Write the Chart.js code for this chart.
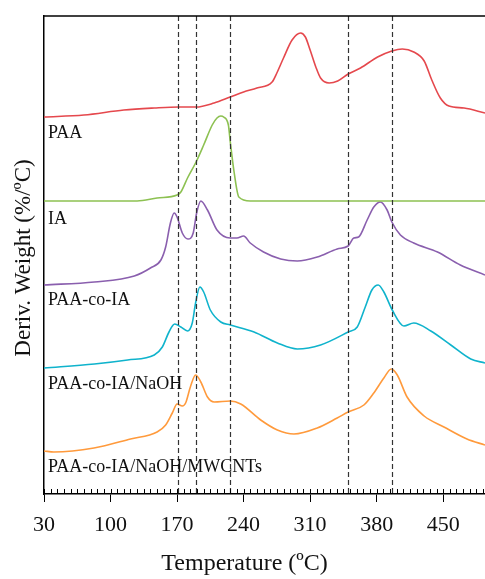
<!DOCTYPE html>
<html>
<head>
<meta charset="utf-8">
<script src="https://cdn.jsdelivr.net/npm/chart.js@4.4.1/dist/chart.umd.min.js"></script>
<style>
  html, body { margin: 0; padding: 0; background: #fff; }
  #wrap { width: 485px; height: 579px; }
</style>
</head>
<body>
<div id="wrap"><canvas id="dtg"></canvas></div>
<script>
'use strict';

// x axis: temperature (ºC), y: arbitrary stacked offset units
const xTicks = [30, 100, 170, 240, 310, 380, 450];
const markers = [171, 190, 226, 350, 396]; // dashed guide lines

const paaT = [30, 72, 114, 146, 172, 190, 209, 226, 240, 254, 270, 275, 282, 291, 300, 305, 310, 316, 321, 330, 339, 350, 363, 381, 396, 407, 419, 430, 438, 447, 456, 472, 494];
const paaY = [377, 379, 384, 386, 387, 387, 391, 397, 402, 406, 412, 421, 436, 454, 461, 457, 444, 427, 416, 411, 413, 420, 426, 437, 443, 445, 442, 433, 414, 396, 388, 386, 381];

const iaT = [30, 128, 149, 170, 174, 181, 190, 198, 207, 212, 216, 219, 224, 226, 230, 235, 247, 494];
const iaY = [293, 293, 296, 299, 302, 316, 332, 349, 369, 376, 378, 377, 369, 352, 322, 297, 293, 293];

const coT = [30, 83, 125, 142, 153, 158, 163, 167, 170, 175.5, 181.5, 187, 190.6, 195, 202, 212, 226, 233, 240, 247, 261, 279, 296.5, 317.5, 338.5, 350, 356, 361, 370, 377, 384, 391, 396, 405, 419, 444, 468, 494];
const coY = [209, 212, 218, 226, 234, 247, 271, 281, 277, 261, 255, 261, 281, 293, 284, 264, 256, 256, 258, 251, 242, 235, 233, 237, 245, 248, 256, 257, 274, 287, 292, 284, 272, 259, 251, 242, 229, 219];

const naT = [30, 83, 118, 146, 154.5, 161.5, 167.5, 174, 181, 186, 189.5, 194, 198, 205, 216, 226, 251, 275.5, 296.5, 321, 350, 359.6, 368, 375, 381.7, 387.6, 396.4, 408.7, 419, 437, 458, 479, 494];
const naY = [126, 130, 134, 139, 147, 162, 170, 167, 163, 171, 191, 207, 202, 184, 172, 169, 162, 151, 145, 149, 162, 167, 187, 204, 209, 202, 184, 168, 171, 163, 149, 135, 131];

const cntT = [30, 40.5, 82.6, 121, 149, 158, 165, 170, 175.5, 179, 184, 189.5, 195, 202, 209, 226, 237, 258, 275.5, 293, 317.5, 338.5, 350, 366.6, 377, 387.6, 395.4, 401.7, 412, 430, 450.8, 475, 494];
const cntY = [43, 42, 46, 55, 62, 69, 81, 90, 88, 91, 107, 119, 112, 97, 92, 93, 90, 74, 64, 60, 66, 76, 82, 89, 101, 116, 125, 119, 97, 78, 67, 55, 49];

const names = ['PAA', 'IA', 'PAA-co-IA', 'PAA-co-IA/NaOH', 'PAA-co-IA/NaOH/MWCNTs'];
const nameY = [356, 270, 189, 105, 22]; // baseline of each curve label
const colors = ['#e5484d', '#8dc152', '#8a5fae', '#0fb3cc', '#ff9a3c'];

function pts(xs, ys) {
  return xs.map((x, i) => ({ x: x, y: ys[i] }));
}

const series = [[paaT, paaY], [iaT, iaY], [coT, coY], [naT, naY], [cntT, cntY]];

const serif = '"Liberation Serif", "DejaVu Serif", serif';

// dashed lines, frame, minor ticks, labels and titles
const decor = {
  id: 'decor',
  afterDatasetsDraw(chart) {
    const ctx = chart.ctx;
    const a = chart.chartArea;
    const xs = chart.scales.x;
    const ys = chart.scales.y;
    ctx.save();

    ctx.strokeStyle = '#333';
    ctx.lineWidth = 1.2;
    ctx.setLineDash([5, 3]);
    markers.forEach(m => {
      const px = Math.round(xs.getPixelForValue(m)) + 0.5;
      ctx.beginPath();
      ctx.moveTo(px, a.top);
      ctx.lineTo(px, a.bottom);
      ctx.stroke();
    });
    ctx.setLineDash([]);

    // top frame
    ctx.strokeStyle = '#000';
    ctx.lineWidth = 1.5;
    ctx.beginPath();
    ctx.moveTo(a.left, a.top);
    ctx.lineTo(a.right, a.top);
    ctx.stroke();

    // minor ticks inside
    ctx.lineWidth = 1;
    for (let v = 30; v <= 494; v += 7) {
      const px = Math.round(xs.getPixelForValue(v)) + 0.5;
      ctx.beginPath();
      ctx.moveTo(px, a.bottom);
      ctx.lineTo(px, a.bottom - 5);
      ctx.stroke();
    }

    ctx.fillStyle = '#111';
    ctx.font = '18px ' + serif;
    ctx.textAlign = 'left';
    ctx.textBaseline = 'alphabetic';
    names.forEach((n, i) => {
      ctx.fillText(n, a.left + 4, ys.getPixelForValue(nameY[i]));
    });

    ctx.font = '24px ' + serif;
    ctx.textAlign = 'center';
    ctx.textBaseline = 'middle';
    ctx.fillText('Temperature (ºC)', xs.getPixelForValue(241), 564);

    ctx.translate(24, 258);
    ctx.rotate(-Math.PI / 2);
    ctx.font = '23px ' + serif;
    ctx.fillText('Deriv. Weight (%/ºC)', 0, 0);
    ctx.restore();
  }
};

new Chart(document.getElementById('dtg'), {
  type: 'line',
  data: {
    datasets: series.map((s, i) => ({
      label: names[i],
      data: pts(s[0], s[1]),
      borderColor: colors[i],
      borderWidth: 1.6,
      pointRadius: 0,
      fill: false,
      cubicInterpolationMode: 'monotone'
    }))
  },
  options: {
    responsive: true,
    maintainAspectRatio: false,
    animation: false,
    events: [],
    layout: { padding: { left: 44, top: 16, right: 0, bottom: 0 } },
    plugins: { legend: { display: false }, tooltip: { enabled: false } },
    scales: {
      x: {
        type: 'linear',
        min: 30,
        max: 494,
        afterBuildTicks: s => { s.ticks = xTicks.map(v => ({ value: v })); },
        afterFit: s => { s.height = 85; },
        grid: { drawOnChartArea: false, drawTicks: true, tickLength: 8, color: '#000', lineWidth: 1 },
        border: { display: true, color: '#000', width: 1.5 },
        ticks: { color: '#111', padding: 10, font: { family: serif, size: 22 }, maxRotation: 0 }
      },
      y: {
        min: 0,
        max: 478,
        afterFit: s => { s.width = 0; },
        grid: { drawOnChartArea: false, drawTicks: false },
        border: { display: true, color: '#000', width: 1.5 },
        ticks: { display: false }
      }
    }
  },
  plugins: [decor]
});
</script>
</body>
</html>
